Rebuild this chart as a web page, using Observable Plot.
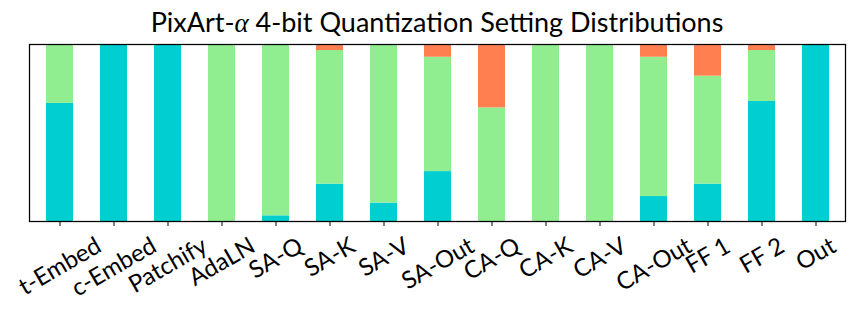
<!DOCTYPE html>
<html>
<head>
<meta charset="utf-8">
<script src="https://cdn.jsdelivr.net/npm/d3@7"></script>
<script src="https://cdn.jsdelivr.net/npm/@observablehq/plot@0.6"></script>
<style>
  html, body { margin: 0; padding: 0; background: #fff; }
  #wrap { width: 858px; }
  #title { height: 40px; width: 858px; box-sizing: border-box; padding-left: 16px; text-align: center;
           font-family: Lato, sans-serif; font-size: 27px; line-height: 44px; color: #000; white-space: nowrap; }
  #title i { font-family: "Liberation Serif", serif; font-style: italic; }
</style>
</head>
<body>
<div id="wrap">
  <div id="title">PixArt-<i>α</i> 4-bit Quantization Setting Distributions</div>
  <div id="chart"></div>
</div>
<script>
const categories = ["t-Embed","c-Embed","Patchify","AdaLN","SA-Q","SA-K","SA-V","SA-Out","CA-Q","CA-K","CA-V","CA-Out","FF 1","FF 2","Out"];
const seriesNames = ["Setting A","Setting B","Setting C"];
const seriesColors = ["#00CED1","#90EE90","#FF7F50"];
const settingA = [0.667,1,1,0,0.032,0.211,0.104,0.282,0,0,0,0.141,0.211,0.678,1];
const settingB = [0.333,0,0,1,0.968,0.755,0.896,0.646,0.642,1,1,0.787,0.610,0.288,0];
const settingC = [0,0,0,0,0,0.034,0,0.072,0.358,0,0,0.072,0.179,0.034,0];

const seriesValues = [settingA, settingB, settingC];
const rows = [];
seriesValues.forEach((vals, s) => {
  vals.forEach((v, i) => rows.push({category: categories[i], series: seriesNames[s], value: v}));
});

const labelFont = "Lato, sans-serif";
const labelSize = 24;
const ctx = document.createElement("canvas").getContext("2d");
ctx.font = `${labelSize}px ${labelFont}`;
const cos30 = Math.cos(Math.PI/6), sin30 = 0.5;
const h = labelSize * 1.1;

const labelMarks = categories.map(c => {
  const w = ctx.measureText(c).width;
  const dy = 5 + 6 + (w * sin30 + h * cos30) / 2;
  return Plot.text([c], {
    x: d => d, frameAnchor: "bottom", dy, rotate: -30,
    textAnchor: "middle", lineAnchor: "middle",
    fontSize: labelSize, fontFamily: labelFont, fill: "black"
  });
});

const chart = Plot.plot({
  width: 858,
  height: 272,
  marginTop: 4,
  marginBottom: 91,
  marginLeft: 29,
  marginRight: 13,
  style: {background: "white", overflow: "visible"},
  x: {domain: categories, paddingInner: 0.5, paddingOuter: 0.25, axis: null},
  y: {domain: [0, 1], axis: null},
  color: {domain: seriesNames, range: seriesColors},
  marks: [
    Plot.barY(rows, {x: "category", y: "value", fill: "series", order: seriesNames}),
    Plot.axisX({tickSize: 5, tickFormat: () => "", stroke: "black", strokeWidth: 1, label: null}),
    Plot.frame({stroke: "black", strokeWidth: 1.25}),
    ...labelMarks
  ]
});
document.getElementById("chart").appendChild(chart);
</script>
</body>
</html>
